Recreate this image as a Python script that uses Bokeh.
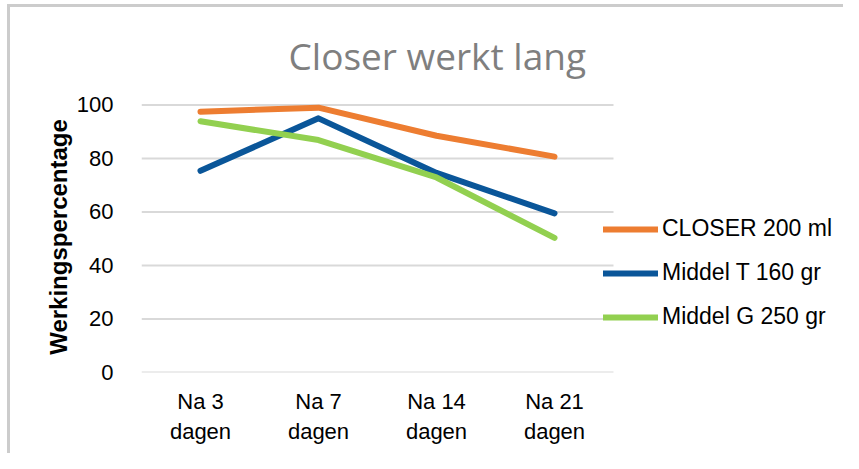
from bokeh.plotting import figure
from bokeh.models import Legend, LegendItem, Range1d, FixedTicker
from bokeh.embed import file_html
from bokeh.resources import INLINE

categories = ["Na 3\ndagen", "Na 7\ndagen", "Na 14\ndagen", "Na 21\ndagen"]
series_names = ["CLOSER 200 ml", "Middel T 160 gr", "Middel G 250 gr"]
closer = [97.5, 99.0, 88.5, 80.7]
middel_t = [75.4, 95.0, 74.6, 59.5]
middel_g = [93.9, 86.9, 72.9, 50.3]
y_ticks = [0, 20, 40, 60, 80, 100]
colors = ["#ED7D31", "#0A5699", "#92D050"]

FONT = "Liberation Sans"
TITLE_FONT = "Open Sans"

xpos = [i + 0.5 for i in range(len(categories))]
n = len(categories)

p = figure(width=836, height=449, x_range=Range1d(0, n * 705 / 472),
           y_range=Range1d(0, 101.3), output_backend="svg", toolbar_location=None,
           min_border_left=131, min_border_right=0, min_border_top=92,
           min_border_bottom=84)
p.styles = {"border-left": "3px solid #cccccc", "border-top": "3px solid #cccccc",
            "position": "relative", "left": "7px", "top": "4px"}
p.outline_line_color = None
p.background_fill_color = "white"
p.border_fill_color = "white"

p.title.text = "Closer werkt lang"
p.title.align = "left"
p.title.text_font = TITLE_FONT
p.title.text_font_style = "normal"
p.title.text_font_size = "37px"
p.title.text_color = "#7f7f7f"
p.title.standoff = 41
p.title.offset = 147

p.xgrid.grid_line_color = None
p.ygrid.grid_line_color = None
p.segment(x0=[0] * len(y_ticks), x1=[n] * len(y_ticks), y0=y_ticks, y1=y_ticks,
          line_color="#d9d9d9", line_width=2)

p.yaxis.ticker = FixedTicker(ticks=y_ticks)
p.xaxis.ticker = FixedTicker(ticks=xpos)
p.xaxis.major_label_overrides = {x: c for x, c in zip(xpos, categories)}

for ax in (p.xaxis[0], p.yaxis[0]):
    ax.axis_line_color = None
    ax.major_tick_line_color = None
    ax.minor_tick_line_color = None
    ax.major_label_text_font = FONT
    ax.major_label_text_font_size = "22px"
    ax.major_label_text_color = "#000000"

p.yaxis.major_label_standoff = 22
p.xaxis.major_label_standoff = 10
p.yaxis.axis_label = "Werkingspercentage"
p.yaxis.axis_label_text_font = FONT
p.yaxis.axis_label_text_font_style = "bold"
p.yaxis.axis_label_text_font_size = "24px"
p.yaxis.axis_label_text_color = "#000000"
p.yaxis.axis_label_standoff = 2

items = []
for name, vals, c in zip(series_names, [closer, middel_t, middel_g], colors):
    r = p.line(xpos, vals, line_color=c, line_width=6, line_cap="round",
               line_join="round")
    items.append(LegendItem(label=name, renderers=[r]))

legend = Legend(items=items, location=(462, 42), orientation="vertical",
                glyph_width=55, glyph_height=20, spacing=17, padding=0, margin=0,
                label_standoff=4, border_line_color=None, background_fill_alpha=0,
                label_text_font=FONT, label_text_font_size="23px",
                label_text_color="#000000")
p.add_layout(legend, "center")

open("out.html", "w").write(file_html(p, INLINE))
